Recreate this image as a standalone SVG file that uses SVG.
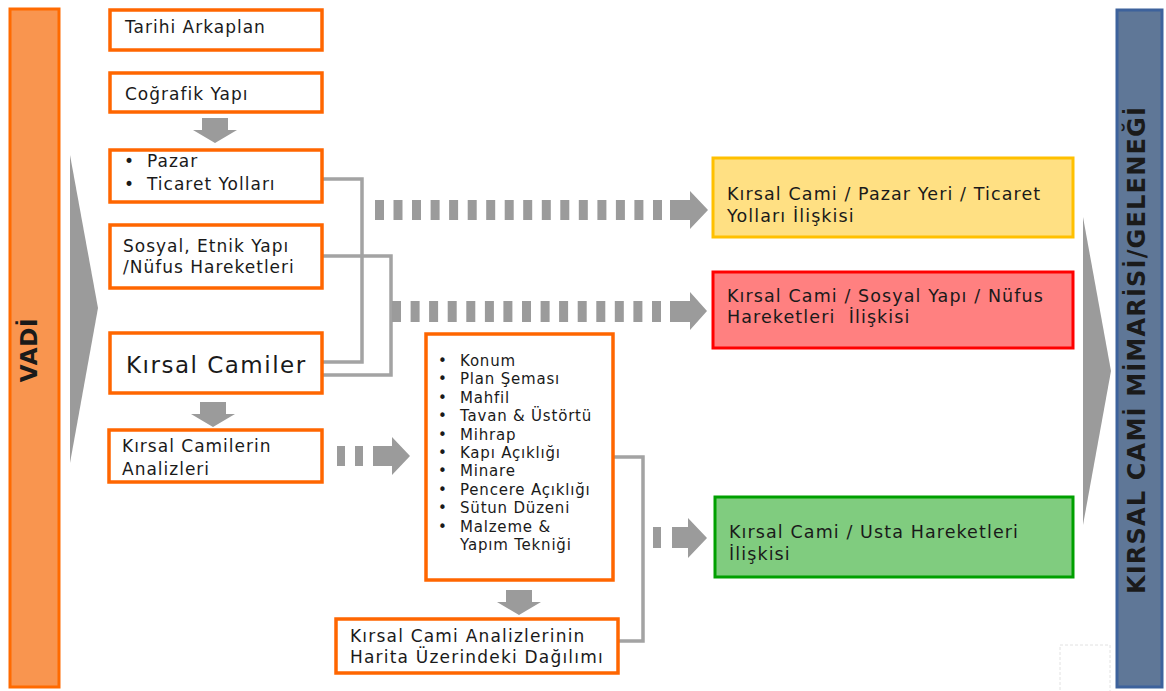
<svg xmlns="http://www.w3.org/2000/svg" width="1166" height="691" viewBox="0 0 1166 691">
<style>
text{font-family:"DejaVu Sans","Liberation Sans",sans-serif;fill:#1a1a1a}
.ob{fill:#fff;stroke:#FF6600;stroke-width:3.5}
.t{font-size:17px;letter-spacing:1px}
.tc{font-size:17.5px;letter-spacing:1.1px}
.tl{font-size:15px;letter-spacing:0.8px}
.big{font-size:23px;letter-spacing:1.5px}
.vt{font-weight:bold;text-anchor:middle}
.ar{fill:#9b9b9b}
.ln{fill:none;stroke:#a3a3a3;stroke-width:3.5}
</style>
<defs>
<polygon id="down" points="-13,0 13,0 13,12 22,12 0,25 -22,12 -13,12"/>
</defs>

<g id="side-left">
<polygon class="ar" points="70,155 98,308 70,463"/>
<rect x="10" y="9" width="49" height="678" fill="#F9954F" stroke="#FF6A00" stroke-width="3"/>
<text class="vt" transform="translate(37,350) rotate(-90)" style="font-size:23px;letter-spacing:0.7px">VADİ</text>
</g>

<g id="side-right">
<rect x="1060" y="645" width="50" height="50" fill="none" stroke="#e2e2e2" stroke-width="1" stroke-dasharray="3,2"/>
<polygon class="ar" points="1083,217 1111,371 1083,525"/>
<rect x="1117" y="10" width="45" height="677" fill="#5F7797" stroke="#3D629C" stroke-width="3"/>
<text class="vt" transform="translate(1145,350) rotate(-90)" style="font-size:24px;letter-spacing:1.2px">KIRSAL CAMİ MİMARİSİ/GELENEĞİ</text>
</g>

<g id="connectors">
<path class="ln" d="M323,179 H362 V362 H323"/>
<path class="ln" d="M323,256 H391 V375 H323"/>
<path class="ln" d="M613,457 H643 V641 H618"/>
<g class="ar">
<use href="#down" x="215" y="118"/>
<use href="#down" x="213" y="402"/>
<use href="#down" x="519" y="590"/>
<rect x="375" y="200" width="9" height="20"/><rect x="393.5" y="200" width="9" height="20"/><rect x="412" y="200" width="9" height="20"/><rect x="430.6" y="200" width="9" height="20"/><rect x="449.1" y="200" width="9" height="20"/><rect x="467.7" y="200" width="9" height="20"/><rect x="486.2" y="200" width="9" height="20"/><rect x="504.7" y="200" width="9" height="20"/><rect x="523.2" y="200" width="9" height="20"/><rect x="541.8" y="200" width="9" height="20"/><rect x="560.3" y="200" width="9" height="20"/><rect x="578.8" y="200" width="9" height="20"/><rect x="597.4" y="200" width="9" height="20"/><rect x="615.9" y="200" width="9" height="20"/><rect x="634.4" y="200" width="9" height="20"/><rect x="653" y="200" width="9" height="20"/>
<polygon points="670,200 690,200 690,191 708,210 690,229 690,220 670,220"/>
<rect x="392" y="301" width="9" height="21"/><rect x="410.6" y="301" width="9" height="21"/><rect x="429.1" y="301" width="9" height="21"/><rect x="447.7" y="301" width="9" height="21"/><rect x="466.3" y="301" width="9" height="21"/><rect x="484.9" y="301" width="9" height="21"/><rect x="503.4" y="301" width="9" height="21"/><rect x="522" y="301" width="9" height="21"/><rect x="540.6" y="301" width="9" height="21"/><rect x="559.1" y="301" width="9" height="21"/><rect x="577.7" y="301" width="9" height="21"/><rect x="596.3" y="301" width="9" height="21"/><rect x="614.8" y="301" width="9" height="21"/><rect x="633.4" y="301" width="9" height="21"/><rect x="652" y="301" width="9" height="21"/>
<polygon points="670,301 690,301 690,292 707,311 690,330 690,322 670,322"/>
<rect x="337" y="446" width="8" height="20"/><rect x="355" y="446" width="8" height="20"/>
<polygon points="373,446 392,446 392,437 410,456 392,475 392,466 373,466"/>
<rect x="653" y="527" width="8" height="21"/>
<polygon points="672,527 688,527 688,518 707,538 688,558 688,548 672,548"/>
</g>
</g>

<g id="tarihi">
<rect class="ob" x="110" y="10" width="212" height="40"/>
<text class="t" x="125" y="33">Tarihi Arkaplan</text>
</g>
<g id="cografik">
<rect class="ob" x="110" y="73" width="212" height="39"/>
<text class="t" x="125" y="100">Coğrafik Yapı</text>
</g>
<g id="pazar">
<rect class="ob" x="110" y="150" width="212" height="52"/>
<text class="t" x="124" y="167">•</text><text class="t" x="147" y="167">Pazar</text>
<text class="t" x="124" y="190">•</text><text class="t" x="147" y="190">Ticaret Yolları</text>
</g>
<g id="sosyal">
<rect class="ob" x="110" y="225" width="212" height="63"/>
<text class="t" x="123" y="252">Sosyal, Etnik Yapı</text>
<text class="t" x="123" y="273">/Nüfus Hareketleri</text>
</g>
<g id="kirsal-camiler">
<rect class="ob" x="110" y="333" width="212" height="60"/>
<text class="big" x="126" y="373">Kırsal Camiler</text>
</g>
<g id="analizleri">
<rect class="ob" x="109" y="430" width="213" height="52"/>
<text class="t" x="122" y="452">Kırsal Camilerin</text>
<text class="t" x="122" y="475">Analizleri</text>
</g>
<g id="liste">
<rect class="ob" x="426" y="334" width="187" height="246"/>
<g class="tl">
<text class="tl" x="438" y="366">•</text><text class="tl" x="460" y="366">Konum</text>
<text class="tl" x="438" y="384.4">•</text><text class="tl" x="460" y="384.4">Plan Şeması</text>
<text class="tl" x="438" y="402.8">•</text><text class="tl" x="460" y="402.8">Mahfil</text>
<text class="tl" x="438" y="421.2">•</text><text class="tl" x="460" y="421.2">Tavan &amp; Üstörtü</text>
<text class="tl" x="438" y="439.6">•</text><text class="tl" x="460" y="439.6">Mihrap</text>
<text class="tl" x="438" y="458">•</text><text class="tl" x="460" y="458">Kapı Açıklığı</text>
<text class="tl" x="438" y="476.4">•</text><text class="tl" x="460" y="476.4">Minare</text>
<text class="tl" x="438" y="494.8">•</text><text class="tl" x="460" y="494.8">Pencere Açıklığı</text>
<text class="tl" x="438" y="513.2">•</text><text class="tl" x="460" y="513.2">Sütun Düzeni</text>
<text class="tl" x="438" y="531.6">•</text><text class="tl" x="460" y="531.6">Malzeme &amp;</text>
<text class="tl" x="460" y="550">Yapım Tekniği</text>
</g>
</g>
<g id="harita">
<rect class="ob" x="336" y="619" width="282" height="54"/>
<text class="t" x="350" y="642" style="letter-spacing:1.2px">Kırsal Cami Analizlerinin</text>
<text class="t" x="350" y="663" style="letter-spacing:1.2px">Harita Üzerindeki Dağılımı</text>
</g>
<g id="pazar-iliskisi">
<rect x="713" y="158" width="360" height="79" fill="#FFE083" stroke="#FFC000" stroke-width="3"/>
<text class="tc" x="727" y="200">Kırsal Cami / Pazar Yeri / Ticaret</text>
<text class="tc" x="727" y="222">Yolları İlişkisi</text>
</g>
<g id="sosyal-iliskisi">
<rect x="713" y="272" width="360" height="76" fill="#FF8080" stroke="#FF0000" stroke-width="3"/>
<text class="tc" x="727" y="302">Kırsal Cami / Sosyal Yapı / Nüfus</text>
<text class="tc" x="727" y="323" xml:space="preserve">Hareketleri  İlişkisi</text>
</g>
<g id="usta-iliskisi">
<rect x="715" y="497" width="358" height="80" fill="#80CC7F" stroke="#00A000" stroke-width="3"/>
<text class="tc" x="729" y="538">Kırsal Cami / Usta Hareketleri</text>
<text class="tc" x="729" y="560">İlişkisi</text>
</g>
</svg>
